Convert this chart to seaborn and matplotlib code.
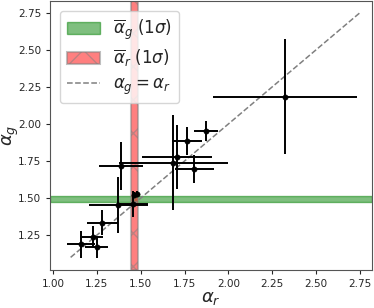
import numpy as np
import pandas as pd
import matplotlib
matplotlib.use("Agg")
import matplotlib.pyplot as plt
import seaborn as sns

# values
alpha_r = [2.324, 1.872, 1.762, 1.709, 1.686, 1.806, 1.388, 1.372, 1.462, 1.477, 1.454, 1.281, 1.226, 1.160, 1.249]
alpha_r_err = [0.41, 0.07, 0.085, 0.20, 0.31, 0.11, 0.124, 0.17, 0.01, 0.01, 0.087, 0.09, 0.06, 0.08, 0.067]
alpha_g = [2.184, 1.953, 1.887, 1.779, 1.739, 1.694, 1.716, 1.453, 1.520, 1.527, 1.459, 1.333, 1.239, 1.187, 1.167]
alpha_g_err = [0.39, 0.07, 0.095, 0.215, 0.32, 0.095, 0.16, 0.187, 0.02, 0.02, 0.09, 0.085, 0.075, 0.09, 0.073]

mean_g, sig_g = 1.493, 0.022
mean_r, sig_r = 1.465, 0.021
diag = [1.10, 2.75]

df = pd.DataFrame({"ar": alpha_r, "ar_err": alpha_r_err, "ag": alpha_g, "ag_err": alpha_g_err})

sns.set_style("ticks")
fig, ax = plt.subplots(figsize=(3.74, 3.08), dpi=100)
fig.subplots_adjust(left=0.134, right=0.995, top=0.997, bottom=0.123)

ax.axhspan(mean_g - sig_g, mean_g + sig_g, color="green", alpha=0.5,
           label=r"$\overline{\alpha}_g$ $(1\sigma)$")
ax.axvspan(mean_r - sig_r, mean_r + sig_r, facecolor="red", edgecolor="grey",
           alpha=0.5, hatch="x", linewidth=1.5, label=r"$\overline{\alpha}_r$ $(1\sigma)$")
sns.lineplot(x=diag, y=diag, ax=ax, color="grey", linestyle="--", linewidth=1.1,
             label=r"$\alpha_g = \alpha_r$")

ax.errorbar(df["ar"], df["ag"], xerr=df["ar_err"], yerr=df["ag_err"],
            fmt="none", ecolor="black", elinewidth=1.4, zorder=3)
sns.scatterplot(data=df, x="ar", y="ag", ax=ax, color="black", s=15,
                edgecolor="black", zorder=4)

ax.set_xlim(0.983, 2.82)
ax.set_ylim(1.014, 2.83)
ax.set_xticks([1.0, 1.25, 1.5, 1.75, 2.0, 2.25, 2.5, 2.75])
ax.set_yticks([1.25, 1.5, 1.75, 2.0, 2.25, 2.5, 2.75])
ax.tick_params(labelsize=7.5, length=3)
ax.set_xlabel(r"$\alpha_r$", fontsize=13, labelpad=0)
ax.set_ylabel(r"$\alpha_g$", fontsize=13, labelpad=0)
ax.yaxis.set_label_coords(-0.09, 0.5)
for s in ax.spines.values():
    s.set_color("#555555")

ax.legend(loc="upper left", fontsize=12, framealpha=0.8, labelspacing=0.35,
          borderaxespad=0.6)

fig.savefig("out.png", dpi=100)
